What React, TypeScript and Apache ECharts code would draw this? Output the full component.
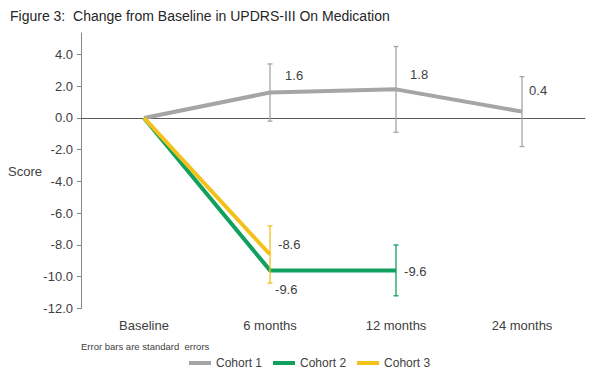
import React, { useEffect, useRef } from "react";
import * as echarts from "echarts";

const categories = ["Baseline", "6 months", "12 months", "24 months"];
const cohort1 = [0, 1.6, 1.8, 0.4];
const cohort2 = [0, -9.6, -9.6, null];
const cohort3 = [0, -8.6, null, null];
// standard errors (per category, null = no bar)
const se1 = [null, 1.8, 2.7, 2.2];
const se2 = [null, null, 1.6, null];
const se3 = [null, 1.8, null, null];
const yTicks = [-12, -10, -8, -6, -4, -2, 0, 2, 4];

const GRAY = "#A5A5A5";
const GREEN = "#11A05E";
const YELLOW = "#F3C119";
const FONT = "'Liberation Sans', Arial, sans-serif";
const TXT = "#404040";

// label offsets [dx, dy] relative to the point
const off1 = [null, [15, -17], [14, -15], [7, -21]];
const off2 = [null, [5, 19], [8, 1], null];
const off3 = [null, [8, -10], null, null];

function lineData(vals: (number | null)[], offs: any[]) {
  return vals.map((v, i) => {
    if (v === null) return null;
    const o = offs[i];
    return {
      value: v,
      label: o
        ? {
            show: true,
            position: "right",
            distance: 0,
            offset: o,
            formatter: (p: any) => Number(p.value).toFixed(1),
            fontSize: 13,
            fontFamily: FONT,
            color: TXT,
          }
        : { show: false },
    };
  });
}

function errData(vals: (number | null)[], se: (number | null)[]) {
  const out: number[][] = [];
  vals.forEach((v, i) => {
    const s = se[i];
    if (v !== null && s !== null) out.push([i, v - s, v + s]);
  });
  return out;
}

function errSeries(data: number[][], color: string) {
  return {
    type: "custom",
    xAxisIndex: 0,
    clip: false,
    z: 5,
    silent: true,
    data,
    renderItem: (params: any, api: any) => {
      const x = api.value(0);
      const lo = api.coord([x, api.value(1)]);
      const hi = api.coord([x, api.value(2)]);
      const style = { stroke: color, lineWidth: 1.3 };
      const c = 2.5;
      return {
        type: "group",
        children: [
          { type: "line", shape: { x1: lo[0], y1: lo[1], x2: hi[0], y2: hi[1] }, style },
          { type: "line", shape: { x1: lo[0] - c, y1: lo[1], x2: lo[0] + c, y2: lo[1] }, style },
          { type: "line", shape: { x1: hi[0] - c, y1: hi[1], x2: hi[0] + c, y2: hi[1] }, style },
        ],
      };
    },
  };
}

function lineSeries(name: string, vals: any[], color: string, z: number) {
  return {
    name,
    type: "line",
    xAxisIndex: 0,
    data: vals,
    symbol: "circle",
    symbolSize: 0.1,
    showSymbol: true,
    connectNulls: false,
    z,
    lineStyle: { color, width: 4 },
    itemStyle: { color },
  };
}

export default function App() {
  const ref = useRef<HTMLDivElement>(null);
  useEffect(() => {
    if (!ref.current) return;
    const chart = echarts.init(ref.current, null, { renderer: "svg" });
    chart.setOption({
      animation: false,
      backgroundColor: "#ffffff",
      textStyle: { fontFamily: FONT },
      grid: { left: 81, right: 15, top: 33, bottom: 65.5, containLabel: false },
      xAxis: [
        {
          type: "category",
          data: categories,
          position: "bottom",
          boundaryGap: true,
          axisLine: { show: false, onZero: false },
          axisTick: { show: false },
          axisLabel: { fontSize: 13, color: TXT, fontFamily: FONT, margin: 10 },
        },
        {
          type: "category",
          data: categories,
          position: "bottom",
          axisLine: { show: true, onZero: true, lineStyle: { color: "#595959", width: 1 } },
          axisTick: { show: false },
          axisLabel: { show: false },
        },
      ],
      yAxis: {
        type: "value",
        min: -12,
        max: 5.35,
        interval: 2,
        axisLine: { show: true, lineStyle: { color: "#868686", width: 1 } },
        axisTick: { show: true, length: 4, lineStyle: { color: "#868686" }, customValues: yTicks },
        axisLabel: {
          fontSize: 13,
          color: TXT,
          fontFamily: FONT,
          margin: 8,
          customValues: yTicks,
          formatter: (v: number) => v.toFixed(1),
        },
        splitLine: { show: false },
      },
      legend: {
        data: ["Cohort 1", "Cohort 2", "Cohort 3"],
        left: 184,
        top: 352,
        icon: "rect",
        itemWidth: 22,
        itemHeight: 4,
        itemGap: 11,
        textStyle: { fontSize: 12, color: TXT, fontFamily: FONT },
      },
      graphic: [
        {
          type: "text",
          left: 10,
          top: 9,
          style: {
            text: "Figure 3:  Change from Baseline in UPDRS-III On Medication",
            fontSize: 14,
            fontFamily: FONT,
            fill: "#262626",
          },
        },
        {
          type: "text",
          left: 8,
          top: 165,
          style: { text: "Score", fontSize: 13, fontFamily: FONT, fill: TXT },
        },
        {
          type: "text",
          left: 81,
          top: 341,
          style: { text: "Error bars are standard  errors", fontSize: 9.5, fontFamily: FONT, fill: TXT },
        },
      ],
      series: [
        lineSeries("Cohort 1", lineData(cohort1, off1), GRAY, 2),
        lineSeries("Cohort 2", lineData(cohort2, off2), GREEN, 3),
        lineSeries("Cohort 3", lineData(cohort3, off3), YELLOW, 4),
        errSeries(errData(cohort1, se1), GRAY),
        errSeries(errData(cohort2, se2), GREEN),
        errSeries(errData(cohort3, se3), YELLOW),
      ],
    });
    return () => chart.dispose();
  }, []);
  return (
    <div
      ref={ref}
      style={{ position: "absolute", left: 0, top: 0, width: 600, height: 374 }}
    />
  );
}
